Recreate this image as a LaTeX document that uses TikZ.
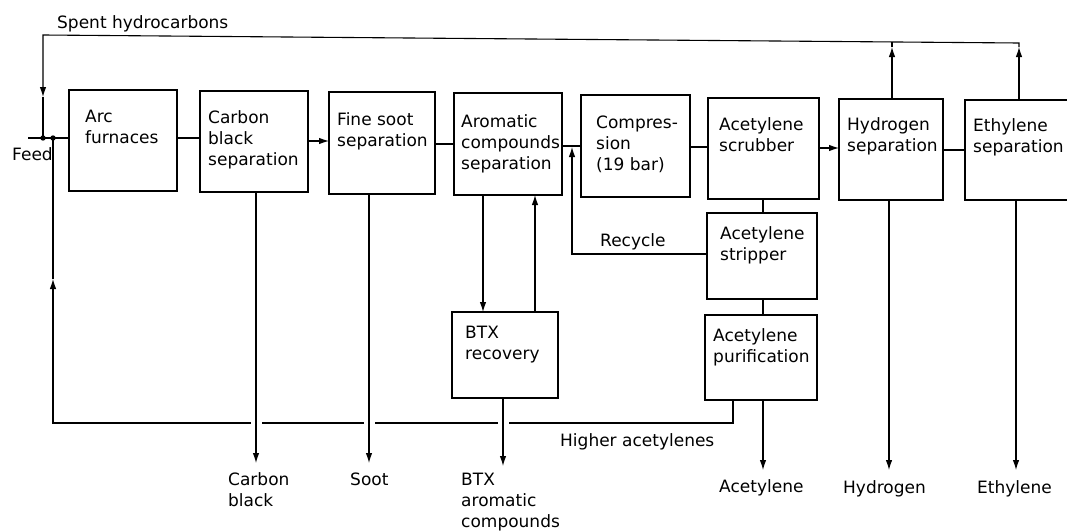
\documentclass[tikz,border=0pt]{standalone}
\usepackage{fontspec}
\setmainfont{DejaVu Sans}
\usetikzlibrary{arrows.meta}
\begin{document}
\begin{tikzpicture}[x=1pt,y=-1pt,
  box/.style={draw, line width=1.3pt, inner sep=0pt, outer sep=0pt},
  txt/.style={anchor=north west, inner sep=0pt, align=left, font=\fontsize{17}{21}\selectfont},
  ln/.style={line width=1.1pt},
  arr/.style={line width=1.1pt, -{Latex[length=10pt,width=6.5pt]}}
]
\useasboundingbox (0,0) rectangle (1067,530);

% process boxes
\node[box, minimum width=108pt, minimum height=101pt] (arc)  at (123,140.5) {};
\node[box, minimum width=108pt, minimum height=101pt] (cbs)  at (254,141.5) {};
\node[box, minimum width=106pt, minimum height=102pt] (fss)  at (382,143) {};
\node[box, minimum width=108pt, minimum height=102pt] (acs)  at (508,144) {};
\node[box, minimum width=109pt, minimum height=102pt] (comp) at (635.5,146) {};
\node[box, minimum width=111pt, minimum height=101pt] (scr)  at (763.5,148.5) {};
\node[box, minimum width=104pt, minimum height=101pt] (hyd)  at (891,149.5) {};
\node[box, minimum width=110pt, minimum height=100pt] (eth)  at (1020,150) {};
\node[box, minimum width=110pt, minimum height=86pt]  (str)  at (762,256) {};
\node[box, minimum width=112pt, minimum height=85pt]  (pur)  at (761,357.5) {};
\node[box, minimum width=106pt, minimum height=86pt]  (btx)  at (505,355) {};

% box texts
\node[txt] (arct)  at (85,110)  {Arc\\furnaces};
\node[txt] (cbst)  at (208,110) {Carbon\\black\\separation};
\node[txt] (fsst)  at (337,112) {Fine soot\\separation};
\node[txt] (acst)  at (461,114) {Aromatic\\compounds\\separation};
\node[txt] (compt) at (596,116) {Compres-\\sion\\(19 bar)};
\node[txt] (scrt)  at (719,117) {Acetylene\\scrubber};
\node[txt] (hydt)  at (847,117) {Hydrogen\\separation};
\node[txt] (etht)  at (973,118) {Ethylene\\separation};
\node[txt] (strt)  at (720,226) {Acetylene\\stripper};
\node[txt] (purt)  at (713,328) {Acetylene\\purification};
\node[txt] (btxt)  at (465,326) {BTX\\recovery};

% main line
\draw[ln]  (arc.east |- 0,138) -- (cbs.west |- 0,138);
\draw[arr] (cbs.east |- 0,141) -- (fss.west |- 0,141);
\draw[ln]  (fss.east |- 0,144) -- (acs.west |- 0,144);
\draw[ln]  (acs.east |- 0,146) -- (comp.west |- 0,146);
\draw[ln]  (comp.east |- 0,147) -- (scr.west |- 0,147);
\draw[arr] (scr.east |- 0,148) -- (hyd.west |- 0,148);
\draw[ln]  (hyd.east |- 0,150) -- (eth.west |- 0,150);

% spent hydrocarbons loop
\coordinate (tr) at (1019,43);
\coordinate (tl) at (43,35);
\coordinate (hj) at (892,42);
\coordinate (ea) at (1019,47);
\coordinate (ha) at (892,47);
\coordinate (la) at (43,97);
\coordinate (fj1) at (43,138);
\coordinate (fj2) at (53,138);
\draw[arr] (eth.north -| tr) -- (ea);
\draw[arr] (hyd.north -| hj) -- (ha);
\draw[ln] (ha) -- (hj);
\draw[arr] (ea) -- (tr) -- (tl) -- (la);
\draw[ln] (la) -- (fj1);

% feed
\coordinate (feed) at (28,138);
\draw[ln] (feed) -- (arc.west |- feed);
\fill (fj1) circle (2.7pt);
\fill (fj2) circle (2.7pt);

% higher acetylenes
\coordinate (h1) at (733,423);
\coordinate (h2) at (53,423);
\coordinate (h3) at (53,279);
\draw[arr] (pur.south -| h1) -- (h1) -- (h2) -- (h3);
\draw[ln] (h3) -- (fj2);

% gaps where products cross
\fill[white] (250.5,418) rectangle (261.5,428);
\fill[white] (363.5,418) rectangle (374.5,428);
\fill[white] (497.5,418) rectangle (508.5,428);

% products
\coordinate (o1) at (256,463);
\coordinate (o2) at (369,463);
\coordinate (o3) at (503,466);
\coordinate (o4) at (763,470);
\coordinate (o5) at (889,470);
\coordinate (o6) at (1016,470);
\draw[arr] (cbs.south -| o1) -- (o1);
\draw[arr] (fss.south -| o2) -- (o2);
\draw[arr] (btx.south -| o3) -- (o3);
\draw[arr] (pur.south -| o4) -- (o4);
\draw[arr] (hyd.south -| o5) -- (o5);
\draw[arr] (eth.south -| o6) -- (o6);

% BTX links
\coordinate (b1) at (483,0);
\coordinate (b2) at (535,0);
\draw[arr] (acs.south -| b1) -- (btx.north -| b1);
\draw[arr] (btx.north -| b2) -- (acs.south -| b2);

% recycle
\coordinate (r1) at (572,254);
\coordinate (r2) at (572,147);
\draw[arr] (str.west |- r1) -- (r1) -- (r2);

% scrubber - stripper - purification
\coordinate (v1) at (763,0);
\draw[ln] (scr.south -| v1) -- (str.north -| v1);
\draw[ln] (str.south -| v1) -- (pur.north -| v1);

% free labels
\node[txt] (spent) at (57,15)   {Spent hydrocarbons};
\node[txt] (feedl) at (12,147)  {Feed};
\node[txt] (recl)  at (600,233) {Recycle};
\node[txt] (hal)   at (560,433) {Higher acetylenes};
\node[txt] (cbl)   at (228,472) {Carbon\\black};
\node[txt] (sootl) at (350,473) {Soot};
\node[txt] (btxl)  at (461,473) {BTX\\aromatic\\compounds};
\node[txt] (acl)   at (719,479) {Acetylene};
\node[txt] (hydl)  at (843,480) {Hydrogen};
\node[txt] (ethl)  at (977,480) {Ethylene};
\end{tikzpicture}
\end{document}
